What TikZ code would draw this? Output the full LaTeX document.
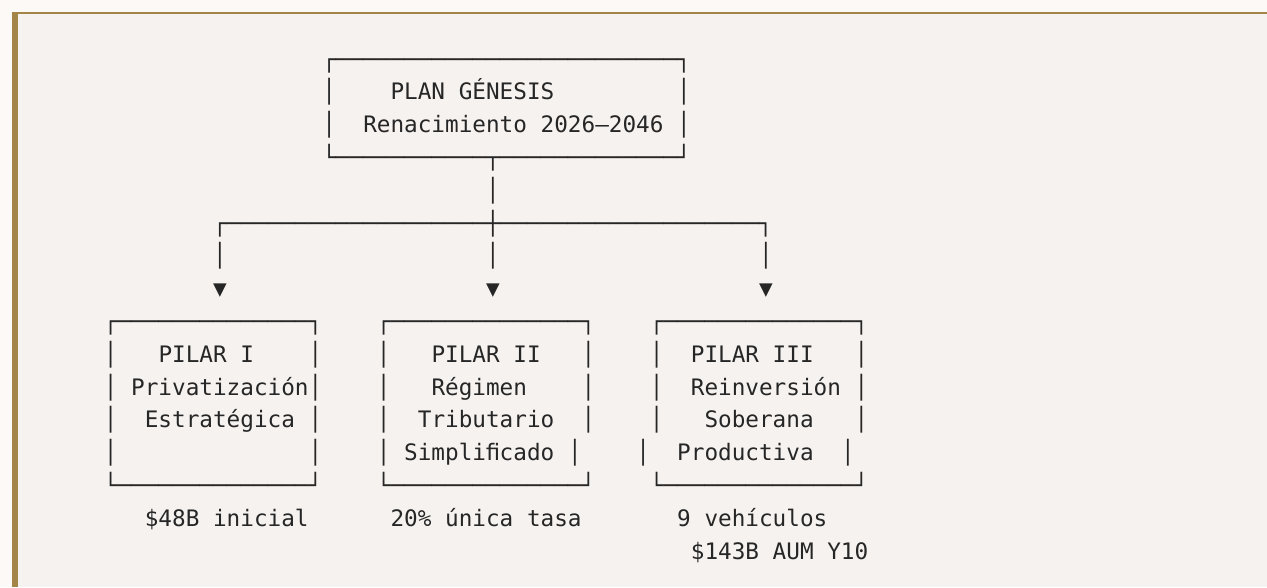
\documentclass[tikz,border=0pt]{standalone}
\usepackage{fontspec}
\newfontfamily\monof{DejaVu Sans Mono}
\definecolor{pagebg}{HTML}{FCF9F6}
\definecolor{innerbg}{HTML}{F6F2F0}
\definecolor{gold}{HTML}{A38548}
\definecolor{ink}{HTML}{262626}
\ExplSyntaxOn
\NewDocumentCommand\hrun{m}{\prg_replicate:nn{#1}{─}}
\ExplSyntaxOff
\tikzset{
  txt/.style={font=\monof\fontsize{22.67pt}{32.8pt}\selectfont, anchor=base west, inner sep=0pt, outer sep=0pt, text=ink},
}
\begin{document}
\begin{tikzpicture}
\useasboundingbox (0,0) rectangle (1267pt,-587pt);
\fill[pagebg] (0,0) rectangle (1267pt,-587pt);
\fill[innerbg] (12pt,-12pt) rectangle (1267pt,-587pt);
\fill[gold] (12pt,-12pt) rectangle (1267pt,-14pt);
\fill[gold] (12pt,-12pt) rectangle (18pt,-587pt);
\begin{scope}[shift={(103.9pt,-67pt)}, x=13.65pt, y=-32.8pt]
% top box
\node[txt] (top0) at (16,0) {┌\hrun{25}┐};
\node[txt] (top1l) at (16,1) {│};
\node[txt] (top1r) at (42,1) {│};
\node[txt] (title) at (21,1) {PLAN GÉNESIS};
\node[txt] (top2l) at (16,2) {│};
\node[txt] (top2r) at (42,2) {│};
\node[txt] (subtitle) at (19,2) {Renacimiento 2026—2046};
\node[txt] (top3) at (16,3) {└\hrun{11}┬\hrun{13}┘};
% connector
\node[txt] (stem) at (28,4) {│};
\node[txt] (bus) at (8,5) {┌\hrun{19}┼\hrun{19}┐};
\node[txt] (dropA) at (8,6) {│};
\node[txt] (dropB) at (28,6) {│};
\node[txt] (dropC) at (48,6) {│};
\node[txt] (arrA) at (8,7) {▼};
\node[txt] (arrB) at (28,7) {▼};
\node[txt] (arrC) at (48,7) {▼};
% box frames
\foreach \c/\n in {0/A,20/B,40/C}{
  \node[txt] (top\n) at (\c,8) {┌\hrun{14}┐};
  \node[txt] (bot\n) at (\c,13) {└\hrun{14}┘};
}
\foreach \r in {9,10,11}{
  \node[txt] (lA\r) at (0,\r) {│};
  \node[txt] (rA\r) at (15,\r) {│};
  \node[txt] (lB\r) at (20,\r) {│};
  \node[txt] (rB\r) at (35,\r) {│};
  \node[txt] (lC\r) at (40,\r) {│};
  \node[txt] (rC\r) at (55,\r) {│};
}
\node[txt] (lA12) at (0,12) {│};
\node[txt] (rA12) at (15,12) {│};
\node[txt] (lB12) at (20,12) {│};
\node[txt] (rB12) at (34,12) {│};
\node[txt] (lC12) at (39,12) {│};
\node[txt] (rC12) at (54,12) {│};
% box texts
\node[txt] (pA1) at (4,9) {PILAR I};
\node[txt] (pA2) at (2,10) {Privatización};
\node[txt] (pA3) at (3,11) {Estratégica};
\node[txt] (pB1) at (24,9) {PILAR II};
\node[txt] (pB2) at (24,10) {Régimen};
\node[txt] (pB3) at (23,11) {Tributario};
\node[txt] (pB4) at (22,12) {Simpliﬁcado};
\node[txt] (pC1) at (43,9) {PILAR III};
\node[txt] (pC2) at (43,10) {Reinversión};
\node[txt] (pC3) at (44,11) {Soberana};
\node[txt] (pC4) at (42,12) {Productiva};
% notes
\node[txt] (nA) at (3,14) {\$48B inicial};
\node[txt] (nB) at (21,14) {20\% única tasa};
\node[txt] (nC1) at (42,14) {9 vehículos};
\node[txt] (nC2) at (43,15) {\$143B AUM Y10};
\end{scope}
\end{tikzpicture}
\end{document}
